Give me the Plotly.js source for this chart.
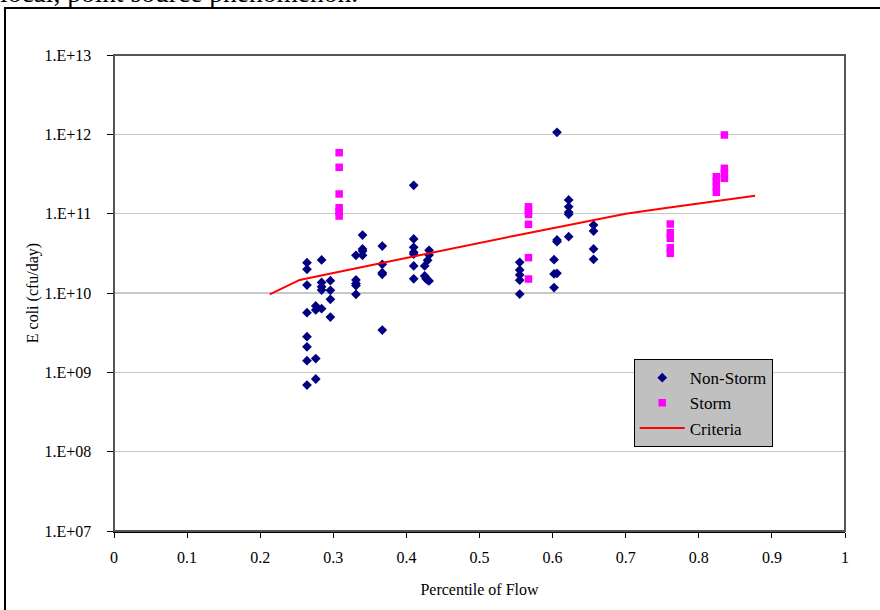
<!DOCTYPE html>
<html>
<head>
<meta charset="utf-8">
<script src="https://cdn.plot.ly/plotly-3.0.1.min.js"></script>
<style>
  html, body { margin:0; padding:0; background:#fff; }
  body { width:880px; height:610px; overflow:hidden; position:relative; }
  #txt { position:absolute; left:0; top:-21px; font-family:"Liberation Serif", serif; font-size:27.5px; line-height:27px; white-space:nowrap; color:#000; }
  #frame { position:absolute; left:4px; top:7px; width:900px; height:700px; border:2px solid #000; }
  #chart { position:absolute; left:0; top:0; width:880px; height:610px; }
</style>
</head>
<body>
<div id="txt">local, point source phenomenon.</div>
<div id="frame"></div>
<div id="chart"></div>
<script>
// Non-Storm samples
const nonStormX = [
  0.264,0.264,0.264,0.264,0.264,0.264,0.264,0.264,
  0.276,0.276,0.276,0.276,
  0.284,0.284,0.284,0.284,0.284,
  0.296,0.296,0.296,0.296,
  0.331,0.331,0.331,0.331,0.331,
  0.340,0.340,0.340,0.340,
  0.367,0.367,0.367,0.367,0.367,
  0.410,0.410,0.410,0.410,0.410,0.410,0.410,
  0.431,0.431,0.431,
  0.429,0.429,
  0.425,0.425,
  0.427,
  0.555,0.555,0.555,0.555,0.555,
  0.606,0.606,0.606,0.606,
  0.602,0.602,0.602,
  0.622,0.622,0.622,0.622,0.622,
  0.656,0.656,0.656,0.656
];
const nonStormY = [
  2.41e10,1.99e10,1.26e10,5.65e9,2.81e9,2.10e9,1.40e9,6.92e8,
  6.86e9,6.11e9,1.49e9,8.24e8,
  2.61e10,1.36e10,1.20e10,1.09e10,6.34e9,
  1.43e10,1.08e10,8.32e9,4.98e9,
  2.99e10,1.46e10,1.32e10,1.24e10,9.63e9,
  5.38e10,3.59e10,3.38e10,2.99e10,
  3.91e10,2.30e10,1.80e10,1.72e10,3.41e9,
  2.28e11,4.80e10,3.77e10,3.26e10,3.08e10,2.19e10,1.51e10,
  3.45e10,3.01e10,1.42e10,
  2.58e10,1.46e10,
  2.19e10,1.64e10,
  1.51e10,
  2.44e10,1.95e10,1.69e10,1.45e10,9.71e9,
  1.06e12,4.66e10,4.43e10,1.77e10,
  2.63e10,1.74e10,1.17e10,
  1.49e11,1.22e11,1.04e11,9.82e10,5.12e10,
  7.19e10,6.04e10,3.59e10,2.66e10
];
// Storm samples
const stormX = [
  0.308,0.308,0.308,0.308,0.308,0.308,
  0.567,0.567,0.567,0.567,0.567,0.567,
  0.761,0.761,0.761,0.761,0.761,
  0.824,0.824,0.824,0.824,
  0.835,0.835,0.835,0.835
];
const stormY = [
  5.87e11,3.84e11,1.77e11,1.19e11,1.06e11,9.34e10,
  1.22e11,1.11e11,9.8e10,7.34e10,2.79e10,1.50e10,
  7.41e10,5.75e10,4.89e10,3.72e10,3.16e10,
  2.92e11,2.53e11,2.19e11,1.86e11,
  9.81e11,3.73e11,3.23e11,2.79e11
];
// Criteria curve
const criteriaX = [0.213,0.254,0.30,0.35,0.40,0.45,0.50,0.55,0.60,0.65,0.70,0.75,0.80,0.85,0.877];
const criteriaY = [9.63e9,1.46e10,1.79e10,2.23e10,2.79e10,3.50e10,4.33e10,5.32e10,6.56e10,8.05e10,1.00e11,1.16e11,1.34e11,1.55e11,1.68e11];

const xTickVals = [0,0.1,0.2,0.3,0.4,0.5,0.6,0.7,0.8,0.9,1];
const xTickText = ["0","0.1","0.2","0.3","0.4","0.5","0.6","0.7","0.8","0.9","1"];
const yTickVals = [1e7,1e8,1e9,1e10,1e11,1e12,1e13];
const yTickText = ["1.E+07","1.E+08","1.E+09","1.E+10","1.E+11","1.E+12","1.E+13"];

const FONT = "Liberation Serif, Times New Roman, serif";

const traces = [
  { type:"scatter", mode:"markers", name:"Non-Storm", x:nonStormX, y:nonStormY,
    legendgroup:"a",
    marker:{ symbol:"diamond", size:7.5, color:"#000080", line:{width:0} } },
  { type:"scatter", mode:"markers", name:"Storm", x:stormX, y:stormY,
    legendgroup:"b",
    marker:{ symbol:"square", size:7.5, color:"#FF00FF", line:{width:0} } },
  { type:"scatter", mode:"lines", name:"Criteria", x:criteriaX, y:criteriaY,
    legendgroup:"c",
    line:{ color:"#FF0000", width:2 } }
];

const layout = {
  width:880, height:610,
  margin:{ l:114, r:35, t:55, b:79, pad:0 },
  paper_bgcolor:"rgba(0,0,0,0)",
  plot_bgcolor:"#ffffff",
  font:{ family:FONT, size:16, color:"#000" },
  showlegend:true,
  legend:{
    x:0.711, y:0.361, xanchor:"left", yanchor:"top",
    bgcolor:"#c0c0c0", bordercolor:"#000", borderwidth:1,
    font:{ family:FONT, size:17, color:"#000" },
    traceorder:"grouped", tracegroupgap:0, itemwidth:45,
    entrywidth:126, entrywidthmode:"pixels"
  },
  xaxis:{
    range:[0,1], tickvals:xTickVals, ticktext:xTickText,
    ticks:"outside", ticklen:5, tickcolor:"#000", tickwidth:1,
    showgrid:false, zeroline:false,
    showline:true, linecolor:"#000", linewidth:2,
    ticklabelstandoff:6,
    tickfont:{ family:FONT, size:16 },
    title:{ text:"Percentile of Flow", font:{ family:FONT, size:16 }, standoff:19 }
  },
  yaxis:{
    type:"log", range:[7,13], tickvals:yTickVals, ticktext:yTickText,
    ticks:"outside", ticklen:6, tickcolor:"#000", tickwidth:1,
    showgrid:true, gridcolor:"#c8c8c8", gridwidth:1.2,
    zeroline:false, showline:true, linecolor:"#000", linewidth:1.5,
    ticklabelstandoff:12,
    tickfont:{ family:FONT, size:16 },
    title:{ text:"E coli (cfu/day)", font:{ family:FONT, size:16 }, standoff:2 }
  },
  shapes:[
    { type:"rect", xref:"paper", yref:"paper", x0:0, x1:1, y0:0, y1:1,
      line:{ color:"#555", width:2 }, layer:"above" }
  ]
};

Plotly.newPlot("chart", traces, layout, { displayModeBar:false, staticPlot:true });
</script>
</body>
</html>
